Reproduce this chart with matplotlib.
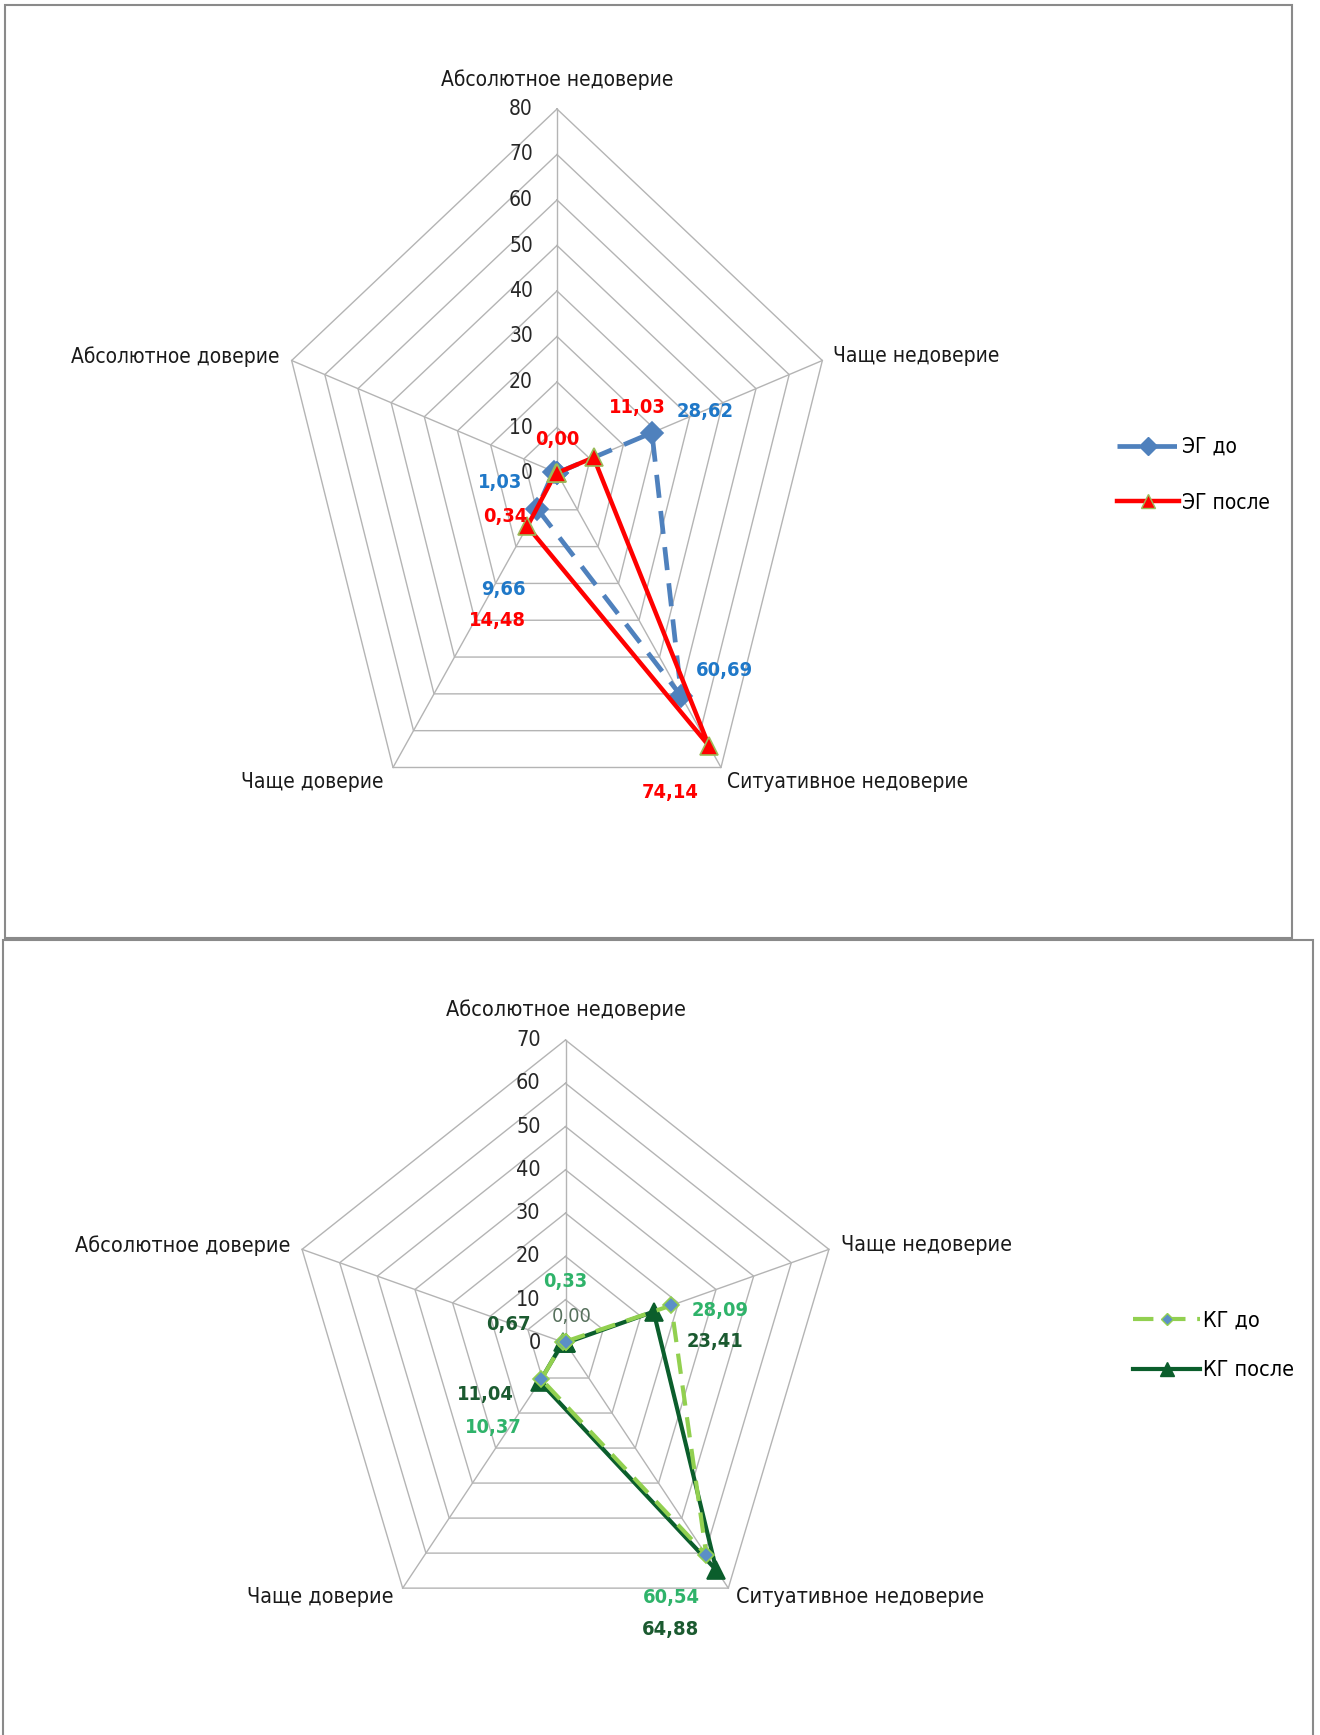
import numpy as np
import matplotlib
matplotlib.use("Agg")
import matplotlib.pyplot as plt
from matplotlib import font_manager as fm
from matplotlib.patches import Rectangle
from matplotlib.lines import Line2D

# categories, clockwise from the top
axis_names = ["Абсолютное недоверие", "Чаще недоверие", "Ситуативное недоверие",
              "Чаще доверие", "Абсолютное доверие"]

# experimental group (%)
eg_before = [0.00, 28.62, 60.69, 9.66, 1.03]
eg_after = [0.00, 11.03, 74.14, 14.48, 0.34]
eg_ticks = [0, 10, 20, 30, 40, 50, 60, 70, 80]

# control group (%)
kg_before = [0.33, 28.09, 60.54, 10.37, 0.67]
kg_after = [0.00, 23.41, 64.88, 11.04, 0.67]
kg_ticks = [0, 10, 20, 30, 40, 50, 60, 70]

W, H = 1320, 1735


def pick_font():
    # narrowest Cyrillic-capable face we can find
    entries = [(f.name, f.stretch) for f in fm.fontManager.ttflist]
    names = {n for n, _ in entries}
    if "Liberation Sans Narrow" in names:
        return "Liberation Sans Narrow", "normal"
    for fam in ("DejaVu Sans", "Noto Sans", "Open Sans", "Roboto"):
        for n, st in entries:
            if n == fam and st in ("condensed", "semi-condensed", "extra-condensed"):
                return fam, st
    for n, st in entries:
        if "Condensed" in n or "Narrow" in n:
            return n, st
    for fam in ("Roboto", "Liberation Sans"):
        if fam in names:
            return fam, "normal"
    return "DejaVu Sans", "normal"


FAM, STRETCH = pick_font()
FONT = [FAM, "DejaVu Sans"]

fig = plt.figure(figsize=(W / 100, H / 100), dpi=100)
renderer = fig.canvas.get_renderer()


def text_width(s, size, weight="normal"):
    t = fig.text(0, 0, s, fontsize=size, family=FONT, fontstretch=STRETCH, fontweight=weight)
    w = t.get_window_extent(renderer=renderer).width
    t.remove()
    return w


# scale font sizes so the rendered widths come out as wide as the original layout
top_size = 19 * 233 / text_width(axis_names[0], 19)
bot_size = 19 * 240 / text_width(axis_names[0], 19)
lab_size = 18 * 57 / text_width("28,62", 18, "bold")


def fig_rect(cx, cy, rx, ry):
    # pixel centre / radii -> figure fraction rect
    return [(cx - rx) / W, (H - cy - ry) / H, 2 * rx / W, 2 * ry / H]


def fmt(v):
    return f"{v:.2f}".replace(".", ",")


def radar(rect, ticks, series, cat_offsets, tick_dx, fsize):
    ax = fig.add_axes(rect, projection="polar")
    ax.set_aspect("auto")
    ax.set_theta_zero_location("N")
    ax.set_theta_direction(-1)
    rmax = ticks[-1]
    ax.set_ylim(0, rmax)
    ax.grid(False)
    ax.set_xticks([])
    ax.set_yticks([])
    ax.spines["polar"].set_visible(False)
    ax.patch.set_alpha(0)

    theta = np.deg2rad(np.arange(len(axis_names)) * 72.0)
    closed = np.append(theta, theta[0])
    for t in ticks[1:]:
        ax.plot(closed, [t] * len(closed), color="#b4b4b4", lw=1.0, zorder=1, clip_on=False)
    for th in theta:
        ax.plot([th, th], [0, rmax], color="#b4b4b4", lw=1.0, zorder=1, clip_on=False)

    for t in ticks:
        ax.annotate(str(t), xy=(0, t), xytext=(tick_dx, 0), textcoords="offset pixels",
                    ha="right", va="center", fontsize=fsize, family=FONT,
                    fontstretch=STRETCH, color="#262626")

    for th, name, (dx, dy, ha) in zip(theta, axis_names, cat_offsets):
        ax.annotate(name, xy=(th, rmax), xytext=(dx, -dy), textcoords="offset pixels",
                    ha=ha, va="center", fontsize=fsize, family=FONT,
                    fontstretch=STRETCH, color="#1a1a1a")

    for s in series:
        vals = np.append(s["values"], s["values"][0])
        ax.plot(closed, vals, color=s["color"], lw=s["lw"], ls=s["ls"],
                marker=s["marker"], ms=s["ms"], mfc=s["mfc"], mec=s["mec"], mew=1.2,
                zorder=s["z"], clip_on=False)
        for i, (dx, dy) in s["labels"].items():
            style = s.get("special", {}).get(i, {})
            ax.annotate(fmt(s["values"][i]), xy=(theta[i], s["values"][i]),
                        xytext=(dx, -dy), textcoords="offset pixels",
                        ha="center", va="center", fontsize=lab_size, family=FONT,
                        fontstretch=STRETCH, fontweight=style.get("weight", "bold"),
                        color=style.get("color", s["text"]), zorder=10)
    return ax


# --- top panel: ЭГ ---
eg_series = [
    dict(name="ЭГ до", values=eg_before, color="#4f81bd", lw=3.4, ls=(0, (4.9, 2.8)),
         marker="D", ms=11, mfc="#4f81bd", mec="#4f81bd", z=3, text="#1f78c8",
         labels={1: (53, -21), 2: (43, -26), 3: (-34, 81), 4: (-54, 11)}),
    dict(name="ЭГ после", values=eg_after, color="#ff0000", lw=3.2, ls="-",
         marker="^", ms=13, mfc="#ff0000", mec="#9bbb59", z=4, text="#ff0000",
         labels={0: (0, -33), 1: (44, -50), 2: (-39, 47), 3: (-30, 94), 4: (-51, 44)}),
]
eg_cat = [(0, -29, "center"), (11, -5, "left"), (6, 15, "left"),
          (-10, 15, "right"), (-12, -4, "right")]
radar(fig_rect(557, 473, 279, 364), eg_ticks, eg_series, eg_cat, -24, top_size)

# --- bottom panel: КГ ---
kg_series = [
    dict(name="КГ до", values=kg_before, color="#92d050", lw=3.0, ls=(0, (4.9, 2.8)),
         marker="D", ms=8, mfc="#5b8fc7", mec="#92d050", z=4, text="#2fb36a",
         labels={0: (0, -60), 1: (49, 5), 2: (-35, 42), 3: (-48, 48)}),
    dict(name="КГ после", values=kg_after, color="#0b5e2c", lw=3.0, ls="-",
         marker="^", ms=13, mfc="#0b5e2c", mec="#0b5e2c", z=3, text="#1b5a30",
         labels={0: (6, -27), 1: (61, 30), 2: (-46, 59), 3: (-54, 13), 4: (-55, -18)},
         special={0: dict(weight="normal", color="#56705c")}),
]
kg_cat = [(0, -30, "center"), (12, -4, "left"), (8, 9, "left"),
          (-9, 9, "right"), (-12, -4, "right")]
radar(fig_rect(565.5, 1343, 277, 303), kg_ticks, kg_series, kg_cat, -25, bot_size)


def legend(series, x, y, hlen, spacing, size):
    handles = [Line2D([], [], color=s["color"], lw=s["lw"], ls=s["ls"], marker=s["marker"],
                      ms=s["ms"] * 0.8, mfc=s["mfc"], mec=s["mec"]) for s in series]
    fig.legend(handles, [s["name"] for s in series], loc="upper left",
               bbox_to_anchor=(x / W, 1 - y / H), frameon=False, borderpad=0,
               borderaxespad=0, handlelength=hlen, handletextpad=0.15,
               labelspacing=spacing,
               prop=dict(family=FONT, size=size, stretch=STRETCH))


legend(eg_series, 1117, 437, 62 / (top_size * 100 / 72), 1.7, top_size)
legend(kg_series, 1133, 1311, 67 / (bot_size * 100 / 72), 1.35, bot_size)

# panel frames
fig.add_artist(Rectangle((5 / W, 1 - 938 / H), 1287 / W, 933 / H, transform=fig.transFigure,
                         fill=False, edgecolor="#8a8a8a", lw=1.5))
fig.add_artist(Rectangle((3 / W, -0.01), 1310 / W, 1 - 940 / H + 0.01,
                         transform=fig.transFigure, fill=False, edgecolor="#8a8a8a", lw=1.5))

fig.savefig("out.png", dpi=100, facecolor="white")
